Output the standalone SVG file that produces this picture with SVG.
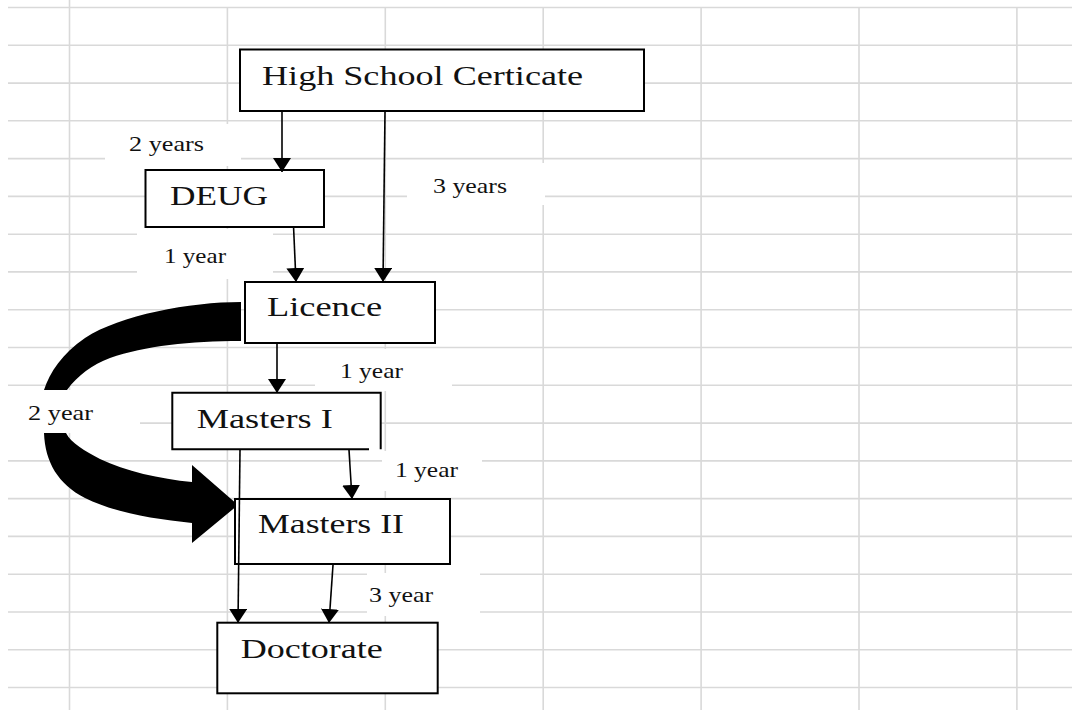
<svg xmlns="http://www.w3.org/2000/svg" width="1072" height="710" viewBox="0 0 1072 710">
  <defs>
    <marker id="head" markerUnits="userSpaceOnUse" markerWidth="20" markerHeight="20" refX="14" refY="9" orient="auto">
      <path d="M0,0 L14,9 L0,18 Z" fill="#000"/>
    </marker>
    <style>
      .grid line { stroke: #d9d9d9; stroke-width: 1.6; }
      .box { fill: #fff; stroke: #000; stroke-width: 2; }
      .title { font-family: "Liberation Serif", "Times New Roman", serif; font-size: 28px; fill: #111; }
      .lbl { font-family: "Liberation Serif", "Times New Roman", serif; font-size: 20px; fill: #111; }
      .lblbg { fill: #fff; }
      .conn { stroke: #000; stroke-width: 1.6; fill: none; marker-end: url(#head); }
    </style>
  </defs>

  <rect width="1072" height="710" fill="#fff"/>

  <!-- spreadsheet-style grid -->
  <g class="grid">
    <line x1="69.5" y1="0" x2="69.5" y2="710"/>
    <line x1="227.4" y1="7.5" x2="227.4" y2="710"/>
    <line x1="385.3" y1="7.5" x2="385.3" y2="710"/>
    <line x1="543.2" y1="7.5" x2="543.2" y2="710"/>
    <line x1="701.1" y1="7.5" x2="701.1" y2="710"/>
    <line x1="859" y1="7.5" x2="859" y2="710"/>
    <line x1="1016.9" y1="7.5" x2="1016.9" y2="710"/>
    <line x1="8" y1="7.5" x2="1072" y2="7.5"/>
    <line x1="8" y1="45.3" x2="1072" y2="45.3"/>
    <line x1="8" y1="83.1" x2="1072" y2="83.1"/>
    <line x1="8" y1="120.8" x2="1072" y2="120.8"/>
    <line x1="8" y1="158.6" x2="1072" y2="158.6"/>
    <line x1="8" y1="196.4" x2="1072" y2="196.4"/>
    <line x1="8" y1="234.2" x2="1072" y2="234.2"/>
    <line x1="8" y1="271.9" x2="1072" y2="271.9"/>
    <line x1="8" y1="309.7" x2="1072" y2="309.7"/>
    <line x1="8" y1="347.5" x2="1072" y2="347.5"/>
    <line x1="8" y1="385.3" x2="1072" y2="385.3"/>
    <line x1="8" y1="423.1" x2="1072" y2="423.1"/>
    <line x1="8" y1="460.9" x2="1072" y2="460.9"/>
    <line x1="8" y1="498.6" x2="1072" y2="498.6"/>
    <line x1="8" y1="536.4" x2="1072" y2="536.4"/>
    <line x1="8" y1="574.2" x2="1072" y2="574.2"/>
    <line x1="8" y1="612" x2="1072" y2="612"/>
    <line x1="8" y1="649.8" x2="1072" y2="649.8"/>
    <line x1="8" y1="687.5" x2="1072" y2="687.5"/>
  </g>

  <!-- thick curved arrow: Licence straight to Masters II -->
  <g id="bypass-arrow" fill="#000">
    <path d="M241,302 C190,302 120,315 85,338 C62,354 50,372 44,390 L67,390 C78,375 92,365 110,358 C145,346 190,341 241,341 Z"/>
    <path d="M44,433 C45,462 58,484 85,498 C115,513 155,519 192,523 L192,543 L238,505 L192,465 L192,482 C160,479 125,471 100,459 C85,451 71,443 66,433 Z"/>
  </g>

  <!-- nodes (text is widened horizontally, as in the printed chart) -->
  <g id="node-highschool">
    <rect class="box" x="240" y="49.5" width="404" height="61.5"/>
    <text class="title" transform="matrix(1.26 0 0 1 262 85)" textLength="254.8" lengthAdjust="spacingAndGlyphs">High School Certicate</text>
  </g>
  <g id="node-deug">
    <rect class="box" x="145.5" y="170" width="178.5" height="57"/>
    <text class="title" transform="matrix(1.26 0 0 1 170 205)" textLength="77.8" lengthAdjust="spacingAndGlyphs">DEUG</text>
  </g>
  <g id="node-licence">
    <rect class="box" x="245" y="282" width="190" height="61"/>
    <text class="title" transform="matrix(1.26 0 0 1 267 316)" textLength="91.3" lengthAdjust="spacingAndGlyphs">Licence</text>
  </g>
  <g id="node-masters1">
    <rect x="172.3" y="392.7" width="208.4" height="56.6" fill="#fff"/>
    <path d="M380.7,449.3 V392.7 H172.3 V449.3 H369" fill="none" stroke="#000" stroke-width="2"/>
    <text class="title" transform="matrix(1.26 0 0 1 196.7 428.3)" textLength="108" lengthAdjust="spacingAndGlyphs">Masters I</text>
  </g>
  <g id="node-masters2">
    <rect class="box" x="235" y="499" width="215" height="65"/>
    <text class="title" transform="matrix(1.26 0 0 1 258 533.3)" textLength="115.9" lengthAdjust="spacingAndGlyphs">Masters II</text>
  </g>
  <g id="node-doctorate">
    <rect class="box" x="217.3" y="622.7" width="220.4" height="70.6"/>
    <text class="title" transform="matrix(1.26 0 0 1 240.7 658.3)" textLength="112.7" lengthAdjust="spacingAndGlyphs">Doctorate</text>
  </g>

  <!-- connectors -->
  <g id="connectors">
    <line class="conn" x1="282" y1="112" x2="282" y2="172"/>
    <line class="conn" x1="385" y1="112" x2="383" y2="282"/>
    <line class="conn" x1="293.6" y1="228" x2="296" y2="282"/>
    <line class="conn" x1="277" y1="344" x2="277" y2="393"/>
    <line class="conn" x1="349" y1="450" x2="352" y2="499"/>
    <line class="conn" x1="240" y1="450" x2="238" y2="623"/>
    <line class="conn" x1="333" y1="565" x2="329" y2="623"/>
  </g>

  <!-- duration labels -->
  <g id="labels">
    <rect class="lblbg" x="105" y="124" width="136" height="42"/>
    <text class="lbl" transform="matrix(1.26 0 0 1 129 150.5)" textLength="59.5" lengthAdjust="spacingAndGlyphs">2 years</text>
    <rect class="lblbg" x="407" y="163" width="138" height="42"/>
    <text class="lbl" transform="matrix(1.26 0 0 1 433 192.5)" textLength="58.7" lengthAdjust="spacingAndGlyphs">3 years</text>
    <rect class="lblbg" x="137" y="229" width="136" height="50"/>
    <text class="lbl" transform="matrix(1.26 0 0 1 164 263)" textLength="49.2" lengthAdjust="spacingAndGlyphs">1 year</text>
    <rect class="lblbg" x="315" y="349" width="137" height="42"/>
    <text class="lbl" transform="matrix(1.26 0 0 1 340 378)" textLength="50" lengthAdjust="spacingAndGlyphs">1 year</text>
    <rect class="lblbg" x="8" y="390" width="132" height="43"/>
    <text class="lbl" transform="matrix(1.26 0 0 1 28 420)" textLength="51.6" lengthAdjust="spacingAndGlyphs">2 year</text>
    <rect class="lblbg" x="382" y="451" width="100" height="40"/>
    <text class="lbl" transform="matrix(1.26 0 0 1 395 476.5)" textLength="50" lengthAdjust="spacingAndGlyphs">1 year</text>
    <rect class="lblbg" x="367" y="573" width="113" height="43"/>
    <text class="lbl" transform="matrix(1.26 0 0 1 369 602)" textLength="50.8" lengthAdjust="spacingAndGlyphs">3 year</text>
  </g>
</svg>
